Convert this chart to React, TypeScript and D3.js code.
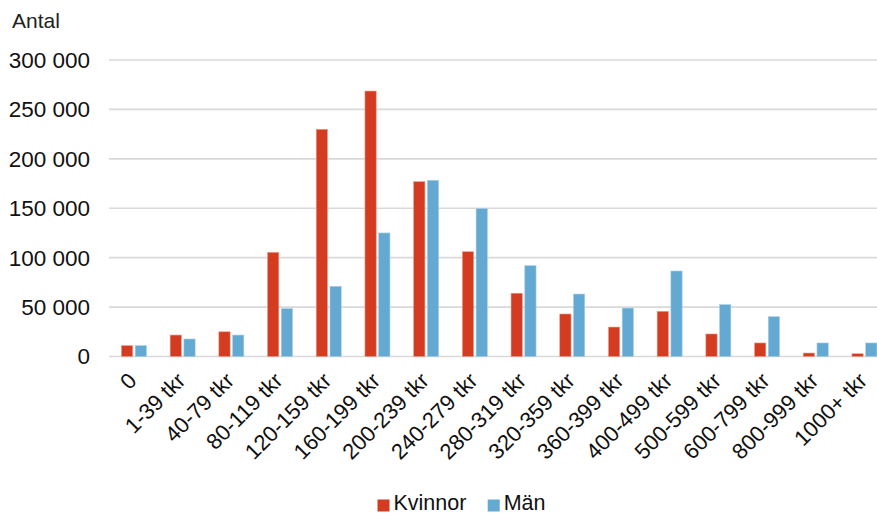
import React from 'react';
import * as d3 from 'd3';

const categories = [
  '0', '1-39 tkr', '40-79 tkr', '80-119 tkr', '120-159 tkr', '160-199 tkr',
  '200-239 tkr', '240-279 tkr', '280-319 tkr', '320-359 tkr', '360-399 tkr',
  '400-499 tkr', '500-599 tkr', '600-799 tkr', '800-999 tkr', '1000+ tkr',
];
const kvinnor = [11000, 21700, 25000, 105400, 229900, 268600, 176900, 106000, 64000, 43000, 29800, 45700, 22800, 13700, 3500, 2800];
const man = [11000, 17700, 21700, 48400, 71000, 125000, 178300, 149600, 91900, 63200, 49000, 86500, 52500, 40300, 13700, 13700];
const yTicks = [0, 50000, 100000, 150000, 200000, 250000, 300000];
const seriesNames = ['Kvinnor', 'Män'];
const colors = ['#D33C20', '#64A9D2'];

const W = 877;
const H = 515;
const font = '"Liberation Sans", Arial, sans-serif';

const fmt = (v: number) => d3.format(',')(v).replace(/,/g, ' ');

const App: React.FC = () => {
  const x = d3.scaleBand<string>().domain(categories).range([109.6, 888.8]).padding(0);
  const inner = d3.scaleBand<string>().domain(seriesNames).range([-12.5, 12.5]).paddingInner(0.18);
  const y = d3.scaleLinear().domain([0, 300000]).range([356.5, 60]);
  const series = [kvinnor, man];

  return (
    <svg width={W} height={H} style={{ position: 'absolute', left: 0, top: 0 }} fontFamily={font}>
      <rect width={W} height={H} fill="#fff" />
      <text x={12} y={28} fontSize={21} fill="#222">Antal</text>
      {yTicks.map((t) => (
        <g key={t}>
          <line x1={109} x2={W} y1={y(t)} y2={y(t)} stroke="#D9D9D9" strokeWidth={1.6} />
          <text x={90} y={y(t)} dy="0.35em" textAnchor="end" fontSize={22.5} fill="#111">{fmt(t)}</text>
        </g>
      ))}
      {categories.map((c, i) => {
        const cx = (x(c) ?? 0) + x.bandwidth() / 2;
        return (
          <g key={c}>
            {series.map((s, j) => (
              <rect
                key={j}
                x={cx + (inner(seriesNames[j]) ?? 0)}
                y={y(s[i])}
                width={inner.bandwidth()}
                height={y(0) - y(s[i])}
                fill={colors[j]}
                stroke={j === 0 ? '#EE9A88' : '#A9CFE6'}
                strokeWidth={0.6}
              />
            ))}
            <text
              transform={`translate(${cx + 4},382) rotate(-45)`}
              textAnchor="end"
              fontSize={22}
              fill="#111"
            >
              {c}
            </text>
          </g>
        );
      })}
      {seriesNames.map((n, j) => {
        const lx = j === 0 ? 377.5 : 487.7;
        return (
          <g key={n}>
            <rect x={lx} y={499.5} width={12} height={12} fill={colors[j]} />
            <text x={lx + 16} y={510} fontSize={21.5} fill="#111">{n}</text>
          </g>
        );
      })}
    </svg>
  );
};

export default App;
